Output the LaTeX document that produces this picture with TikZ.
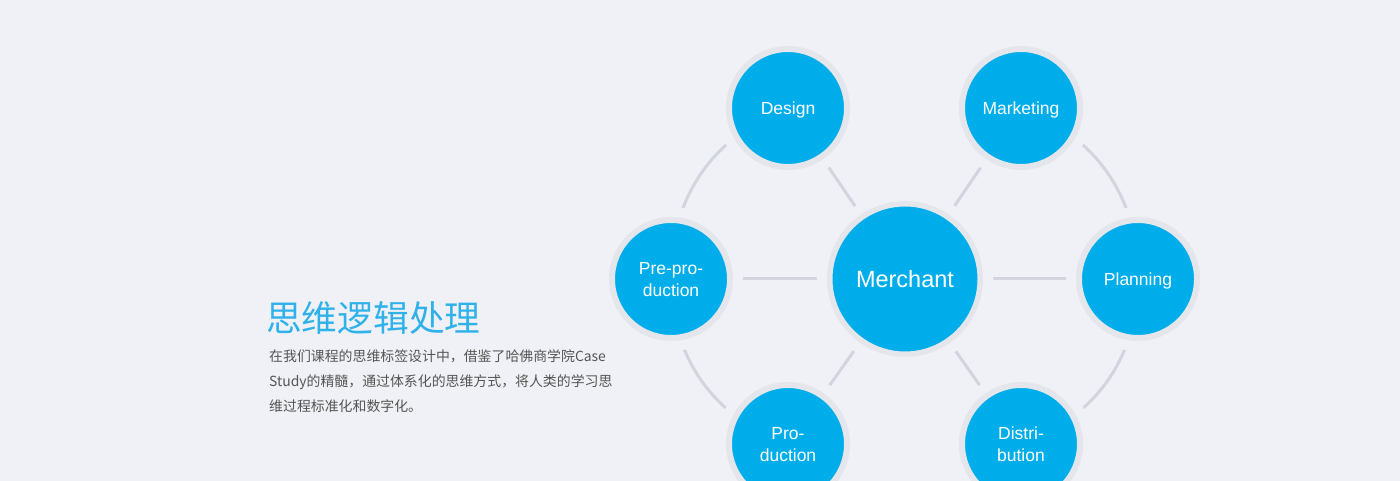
\documentclass[tikz,border=0pt]{standalone}
\usepackage{fontspec}
\setmainfont{Liberation Sans}
\newfontfamily\cjk{Noto Sans CJK SC}
\usetikzlibrary{positioning}
\definecolor{pagebg}{RGB}{240, 241, 246}
\definecolor{hubblue}{RGB}{0, 173, 235}
\definecolor{ringgray}{RGB}{228, 230, 235}
\definecolor{linkgray}{RGB}{210, 213, 222}
\definecolor{titleblue}{RGB}{47, 177, 234}
\definecolor{textgray}{RGB}{85, 85, 85}
\pgfdeclarelayer{paper}
\pgfdeclarelayer{wires}
\pgfsetlayers{paper,wires,main}

\begin{document}
\begin{tikzpicture}[
  x=1pt, y=1pt,
  bubble/.style  = {circle, fill=hubblue, draw=ringgray, line width=6pt,
                    minimum size=118pt, inner sep=0pt, text=white,
                    align=center, font=\fontsize{17.5}{22}\selectfont,
                    text depth=0pt,
                    preaction={fill=pagebg, draw=pagebg, line width=26pt}},
  hub/.style     = {bubble, line width=5.5pt, minimum size=150.5pt,
                    font=\fontsize{23.5}{28}\selectfont,
                    preaction={fill=pagebg, draw=pagebg, line width=25.5pt}},
  link/.style    = {draw=linkgray, line width=3pt},
  headline/.style = {anchor=west, inner sep=0pt, text=titleblue,
                    font=\cjk\fontsize{35.7}{40}\selectfont},
  blurb/.style   = {inner sep=0pt, align=left, text=textgray,
                    font=\cjk\fontsize{13.9}{25}\selectfont}
]
\begin{pgfonlayer}{paper}
  \fill[pagebg] (0,0) rectangle (1400,481);
\end{pgfonlayer}
\useasboundingbox (0,0) rectangle (1400,481);

%% centre and ring of bubbles
\node[hub] (merchant) at (905,202) {Merchant};
\node[bubble, on grid, above left=171pt and 117pt of merchant] (design) {Design};
\node[bubble, on grid, above right=171pt and 116pt of merchant] (marketing) {Marketing};
\node[bubble, on grid, left=234pt of merchant] (preprod) {Pre-pro-\\duction};
\node[bubble, on grid, right=233pt of merchant] (planning) {Planning};
\node[bubble, on grid, below left=165pt and 117pt of merchant] (production) {Pro-\\duction};
\node[bubble, on grid, below right=165pt and 116pt of merchant] (distribution) {Distri-\\bution};

%% spokes and outer arcs, kept under the bubbles
\begin{pgfonlayer}{wires}
  \foreach \leaf in {design, marketing, preprod, planning, production, distribution}
    \draw[link] (merchant.center) -- (\leaf.center);
  \draw[link] (design.center) to[bend right=35] (preprod.center);
  \draw[link] (preprod.center) to[bend right=35] (production.center);
  \draw[link] (marketing.center) to[bend left=35] (planning.center);
  \draw[link] (planning.center) to[bend left=35] (distribution.center);
\end{pgfonlayer}

%% text block
\node[headline] (title) at (266,163) {思维逻辑处理};
\node[blurb, below=15pt of title.south west, anchor=north west, xshift=3pt] (body)
  {在我们课程的思维标签设计中，借鉴了哈佛商学院Case\\
   Study的精髓，通过体系化的思维方式，将人类的学习思\\
   维过程标准化和数字化。};

\end{tikzpicture}
\end{document}
